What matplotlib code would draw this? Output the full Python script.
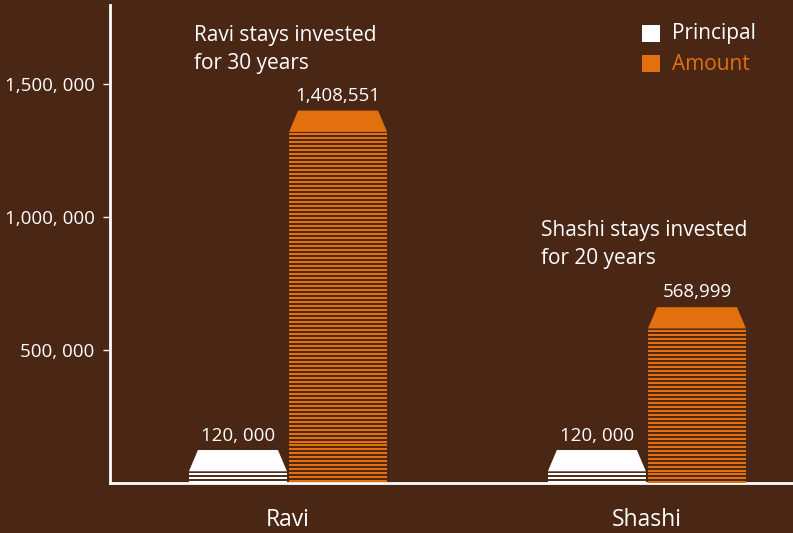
import numpy as np
import matplotlib.pyplot as plt
from matplotlib.patches import Polygon, Rectangle

# --- data ---
investors = ['Ravi', 'Shashi']
principal = [120000, 120000]
amount = [1408551, 568999]
# heights the bars are actually drawn at in the original graphic (not to scale)
principal_drawn = [124000, 124000]
amount_drawn = [1400000, 661000]
principal_labels = ['120, 000', '120, 000']
amount_labels = ['1,408,551', '568,999']
notes = ['Ravi stays invested\nfor 30 years', 'Shashi stays invested\nfor 20 years']
yticks = [500000, 1000000, 1500000]
ytick_labels = ['500, 000', '1,000, 000', '1,500, 000']

BG = '#4a2614'
ORANGE = '#e2700f'
WHITE = '#ffffff'
plt.rcParams['font.family'] = ['Open Sans', 'DejaVu Sans']

fig = plt.figure(figsize=(7.93, 5.33), dpi=100, facecolor=BG)
ax = fig.add_axes([0.1387, 0.0938, 0.8613, 0.8968], facecolor=BG)
ax.set_xlim(-0.496, 1.407)
ax.set_ylim(0, 1797000)

bw = 0.273      # bar width
off = 0.1395    # centre offset of each bar from group centre
cap_h = 80000   # height of the solid top cap
inset = 0.025   # cap top inset
step = 15000    # stripe spacing


def draw_bar(xc, val, color):
    x0, x1 = xc - bw / 2, xc + bw / 2
    top = val
    base = val - cap_h
    ax.add_patch(Polygon([(x0, base), (x1, base), (x1 - inset, top), (x0 + inset, top)],
                         closed=True, fc=color, ec='none', zorder=3))
    ys = np.arange(base - 0.6 * step, 0, -step)
    ax.hlines(ys, x0, x1, colors=color, lw=1.5, zorder=3)


for i, name in enumerate(investors):
    draw_bar(i - off, principal_drawn[i], WHITE)
    draw_bar(i + off, amount_drawn[i], ORANGE)
    ax.text(i - off, principal_drawn[i] + 20000, principal_labels[i], color=WHITE,
            ha='center', va='bottom', fontsize=13.5)
    ax.text(i + off, amount_drawn[i] + 22000, amount_labels[i], color=WHITE,
            ha='center', va='bottom', fontsize=13.5)

ax.text(-0.262, 1722000, notes[0], color=WHITE, fontsize=15, ha='left', va='top',
        linespacing=1.42)
ax.text(0.706, 987000, notes[1], color=WHITE, fontsize=15, ha='left', va='top',
        linespacing=1.42)

ax.set_xticks(range(len(investors)))
ax.set_xticklabels(investors, color=WHITE, fontsize=16.5)
ax.tick_params(axis='x', length=0, pad=18)
ax.set_yticks(yticks)
ax.set_yticklabels(ytick_labels, color=WHITE, fontsize=13.5)
ax.tick_params(axis='y', colors=WHITE, length=5, width=1, pad=6)

for s in ['top', 'right']:
    ax.spines[s].set_visible(False)
for s in ['left', 'bottom']:
    ax.spines[s].set_color(WHITE)
    ax.spines[s].set_linewidth(2)

# legend
fig.add_artist(Rectangle((642 / 793, 1 - 42 / 533), 18 / 793, 17 / 533,
                         transform=fig.transFigure, fc=WHITE, ec='none'))
fig.add_artist(Rectangle((642 / 793, 1 - 72 / 533), 18 / 793, 17 / 533,
                         transform=fig.transFigure, fc=ORANGE, ec='none'))
fig.text(672 / 793, 1 - 34 / 533, 'Principal', color=WHITE, fontsize=15, va='center')
fig.text(672 / 793, 1 - 64 / 533, 'Amount', color=ORANGE, fontsize=15, va='center')

plt.savefig('out.png', dpi=100, facecolor=BG)
